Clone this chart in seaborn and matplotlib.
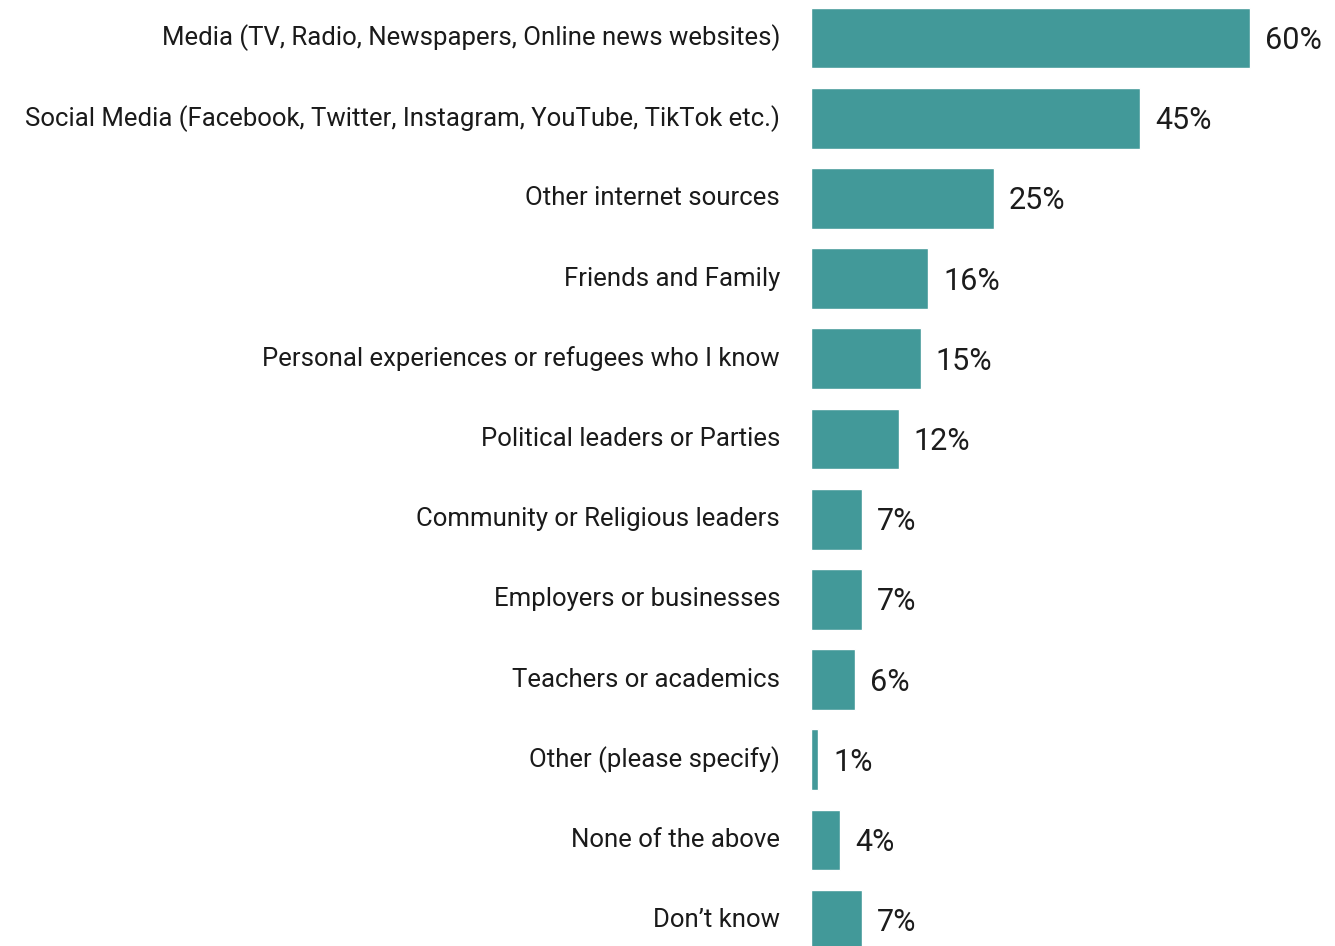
import matplotlib
matplotlib.use("Agg")
import matplotlib.pyplot as plt
import seaborn as sns
import pandas as pd

categories = [
    "Media (TV, Radio, Newspapers, Online news websites)",
    "Social Media (Facebook, Twitter, Instagram, YouTube, TikTok etc.)",
    "Other internet sources",
    "Friends and Family",
    "Personal experiences or refugees who I know",
    "Political leaders or Parties",
    "Community or Religious leaders",
    "Employers or businesses",
    "Teachers or academics",
    "Other (please specify)",
    "None of the above",
    "Don\u2019t know",
]
values = [60, 45, 25, 16, 15, 12, 7, 7, 6, 1, 4, 7]

df = pd.DataFrame({"source": categories, "share": values})

sns.set_theme(style="white")
plt.rcParams["font.family"] = ["Roboto", "DejaVu Sans"]

W, H = 1335, 946
fig = plt.figure(figsize=(W / 100, H / 100), dpi=100)
ax_left = 811 / W
ax = fig.add_axes([ax_left, 0, 1 - ax_left, 1])

sns.barplot(data=df, x="share", y="source", orient="h", color="#429999",
            saturation=1, width=0.76, ax=ax)

px_per_unit = 7.32
ax.set_xlim(0, (W - 811) / px_per_unit)
pitch = 80.2
ax.set_ylim((H - 38) / pitch, -38 / pitch)

for i, (cat, v) in enumerate(zip(categories, values)):
    ax.text(v + 15 / px_per_unit, i + 0.03, f"{v}%", va="center", ha="left",
            fontsize=22, color="#1c1c1c", fontweight="normal")
    ax.text(-31 / px_per_unit, i, cat, va="center", ha="right",
            fontsize=18.5, color="#1a1a1a", clip_on=False)

ax.set_xlabel("")
ax.set_ylabel("")
ax.set_xticks([])
ax.set_yticks([])
sns.despine(ax=ax, left=True, bottom=True)

fig.savefig("out.png", dpi=100, facecolor="white")
